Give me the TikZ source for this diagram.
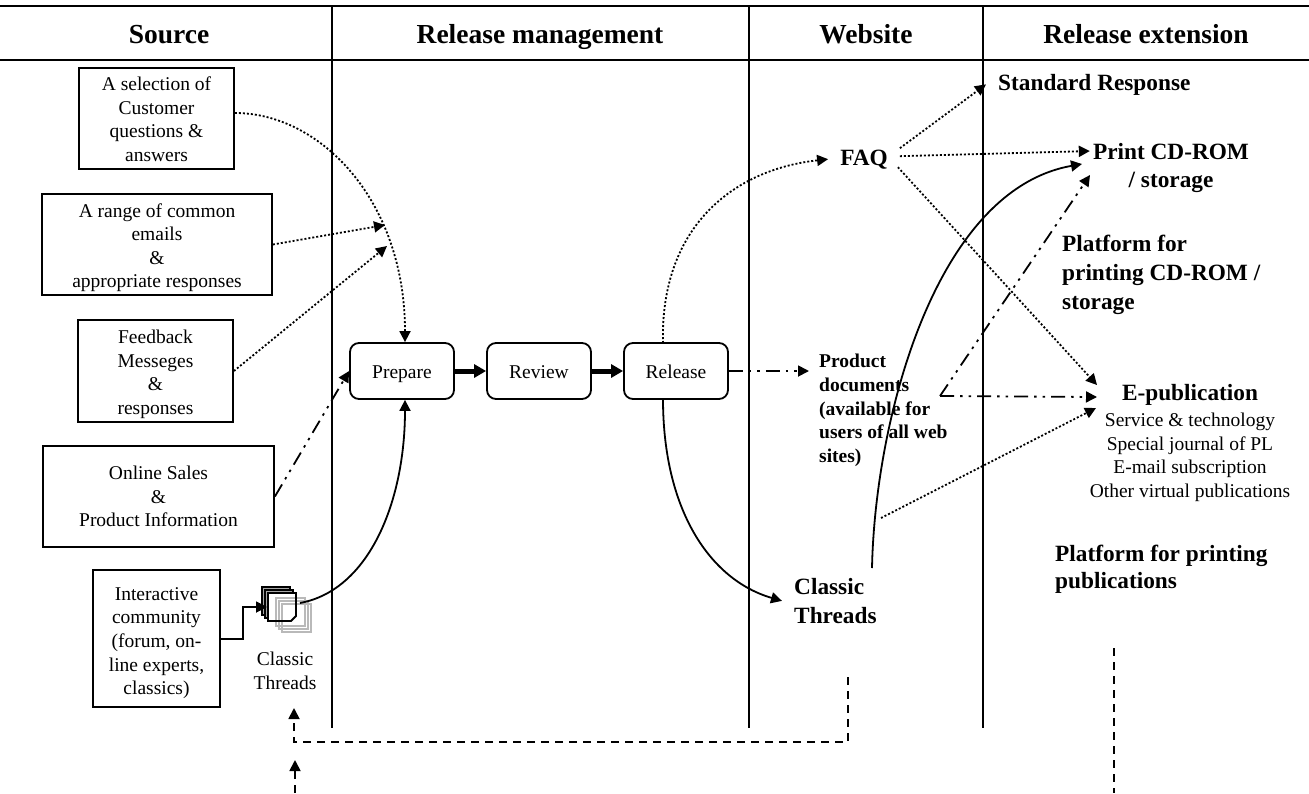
\documentclass[tikz,border=0pt]{standalone}
\usepackage{fontspec}
\setmainfont{Liberation Serif}
\usetikzlibrary{arrows.meta}
\newcommand{\toppad}[1]{\rule{0pt}{#1pt}}
\tikzset{>={Triangle[length=11pt,width=11pt]}}
\tikzset{
  srcbox/.style={draw,line width=1.8pt,minimum width=#1,align=center,inner sep=0pt,font=\fontsize{19.5}{23.6}\selectfont},
  stepbox/.style={draw,line width=1.8pt,rounded corners=9pt,minimum width=104pt,minimum height=56pt,text height=16pt,text depth=2pt,font=\fontsize{19.5}{20}\selectfont},
  head/.style={anchor=base,font=\bfseries\fontsize{27.5}{30}\selectfont},
  bold/.style={align=left,inner ysep=0pt,inner xsep=0pt,font=\bfseries\fontsize{23.3}{29}\selectfont},
  plain/.style={align=center,inner sep=0pt,font=\fontsize{19.5}{23.6}\selectfont},
  dots/.style={line width=1.8pt,dash pattern=on 2pt off 2pt},
  dashdot/.style={line width=1.8pt,dash pattern=on 14pt off 6pt on 2.5pt off 6pt on 2.5pt off 6pt},
  dashline/.style={line width=1.8pt,dash pattern=on 8pt off 6pt},
  solid line/.style={line width=1.8pt},
}
\begin{document}
\begin{tikzpicture}[x=1pt,y=-1pt]
  \useasboundingbox (0,0) rectangle (1309,793);
  % frame of the table
  \draw[line width=2pt] (0,6) -- (1309,6);
  \draw[line width=2pt] (0,60) -- (1309,60);
  \draw[line width=2pt] (331.5,6) -- (331.5,728);
  \draw[line width=2pt] (749,6) -- (749,728);
  \draw[line width=2pt] (983,6) -- (983,728);
  % headings
  \node[head] (hsource) at (169,43) {Source};
  \node[head] (hmanage) at (540,43) {Release management};
  \node[head] (hweb) at (866,43) {Website};
  \node[head] (hext) at (1146,43) {Release extension};
  % source boxes
  \node[srcbox=155pt,minimum height=101pt] (select) at (156.5,118.5) {\toppad{15}A selection of\\Customer\\questions \&\\answers};
  \node[srcbox=230pt,minimum height=101pt] (emails) at (157,244.5) {\toppad{20}A range of common\\emails\\\&\\appropriate responses};
  \node[srcbox=155pt,minimum height=102pt] (feedback) at (155.5,371) {\toppad{20}Feedback\\Messeges\\\&\\responses};
  \node[srcbox=231pt,minimum height=101pt] (sales) at (158.5,496.5) {Online Sales\\\&\\Product Information};
  \node[srcbox=127pt,minimum height=137pt] (community) at (156.5,638.5) {\toppad{22}Interactive\\community\\(forum, on-\\line experts,\\classics)};
  % stack of threads
  \foreach \i in {0,1} {
    \draw[black,fill=gray!70,line width=1.5pt] (262+\i*3,587+\i*3) rectangle ++(28,28);
  }
  \fill[white] (268,593) rectangle (296,621);
  \foreach \i in {0,1,2} {
    \draw[gray!55,line width=2pt] (276+\i*3,598+\i*3) rectangle ++(29,28);
  }
  \draw[line width=1.8pt] (268,593) -- (296,593) -- (296,616) -- (291,621) -- (268,621) -- cycle;
  \coordinate (stackin) at (267,607);
  \coordinate (stackout) at (300,603);
  \node[plain] (threads) at (285,671) {Classic\\Threads};
  % release steps
  \node[stepbox] (prepare) at (402,371) {Prepare};
  \node[stepbox] (review) at (539,371) {Review};
  \node[stepbox] (release) at (676,371) {Release};
  % website
  \node[bold,inner xsep=12pt,anchor=base] (faq) at (864,165) {FAQ};
  \node[align=left,anchor=north west,inner sep=0pt,inner xsep=10pt,font=\bfseries\fontsize{19.5}{23.7}\selectfont] (docs) at (809,354) {Product\\documents\\(available for\\users of all web\\sites)};
  \node[bold,inner xsep=12pt,anchor=north west] (cthreads) at (782,578) {Classic\\Threads};
  % extension
  \node[bold,inner xsep=12pt,anchor=base west] (standard) at (986,90) {Standard Response};
  \node[bold,inner xsep=3pt,anchor=base] (print) at (1171,159) {Print CD-ROM};
  \node[bold,anchor=base] (storage) at (1171,187) {/ storage};
  \node[bold,anchor=north west] (platprint) at (1062,234.5) {Platform for\\printing CD-ROM /\\storage};
  \node[bold,anchor=base] (epub) at (1190,400) {E-publication};
  \node[plain,anchor=north] (eplist) at (1190,413) {Service \& technology\\Special journal of PL\\E-mail subscription\\Other virtual publications};
  \node[bold,anchor=north west,font=\bfseries\fontsize{23.3}{27}\selectfont] (platpub) at (1055,545) {Platform for printing\\publications};
  % free ends
  \coordinate (epin) at (1097,385);
  \coordinate (epmid) at (1097,397);
  \coordinate (eplow) at (1096,408);
  \coordinate (fork) at (940,396);
  \coordinate (printlow) at (1090,175);
  \coordinate (printsolid) at (1082,164);
  \coordinate (hub) at (385,225);
  \coordinate (hubb) at (387,246);
  \coordinate (dotstart) at (881,518);
  \coordinate (solidstart) at (872,568);
  \coordinate (dashtop) at (848,677);
  \coordinate (dashto) at (294,708);
  \coordinate (dashcorner) at (848,742);
  \coordinate (dashleft) at (294,742);
  \coordinate (lowstart) at (295,793);
  \coordinate (lowend) at (295,760);
  \coordinate (rightdashtop) at (1114,648);
  \coordinate (rightdashend) at (1114,793);
  % into prepare
  \draw[->,dots] (select.east |- 0,113) .. controls (320,113) and (405,200) .. (prepare.north -| 405,0);
  \draw[->,dots] (emails.east) -- (hub);
  \draw[->,dots] (feedback.east) -- (hubb);
  \draw[->,dashdot] (sales.east) -- (prepare.west);
  \draw[->,solid line] (stackout) .. controls (370,590) and (405,500) .. (prepare.south -| 405,0);
  \draw[->,solid line] (community.east |- 0,639) -- (243,639) -- (243,607) -- (stackin);
  % steps
  \draw[-{Triangle[length=12pt,width=13pt]},line width=5pt] (prepare) -- (review);
  \draw[-{Triangle[length=12pt,width=13pt]},line width=5pt] (review) -- (release);
  % out of release
  \draw[->,dots] (663,343) .. controls (660,230) and (730,170) .. (faq.west);
  \draw[->,dashdot] (release.east) -- (docs.west |- release.east);
  \draw[->,solid line] (663,399) .. controls (663,510) and (710,580) .. (cthreads.west);
  % out of faq
  \draw[->,dots] (faq.east) ++(0,-11) -- (standard.west);
  \draw[->,dots] (faq.east) ++(0,-3) -- (print.west);
  \draw[->,dots] (faq.east) ++(-2,8) -- (epin);
  \draw[->,solid line] (solidstart) .. controls (875,420) and (935,190) .. (printsolid);
  \draw[->,dashdot] (fork) -- (printlow);
  \draw[->,dashdot] (fork) -- (epmid);
  \draw[->,dots] (dotstart) -- (eplow);
  % dashed feedback
  \draw[->,dashline] (dashtop) -- (dashcorner) -- (dashleft) -- (dashto);
  \draw[->,dashline] (lowstart) -- (lowend);
  \draw[dashline] (rightdashtop) -- (rightdashend);
\end{tikzpicture}
\end{document}
